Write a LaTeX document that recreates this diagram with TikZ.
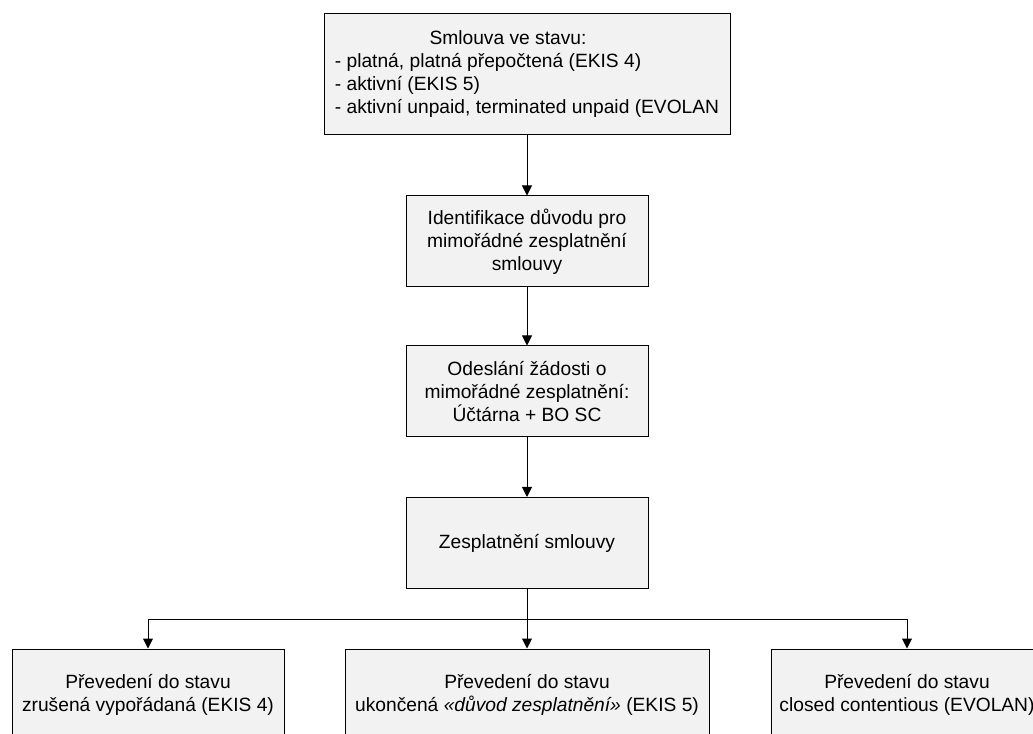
\documentclass[tikz,border=0pt]{standalone}
\usepackage{fontspec}
\setmainfont{Liberation Sans}
\usetikzlibrary{arrows.meta}
\definecolor{boxfill}{HTML}{F2F2F2}
\tikzset{
  box/.style={draw=black, fill=boxfill, line width=0.75pt, align=center, inner sep=0pt,
    minimum width=181.5pt, minimum height=68.25pt, font=\fontsize{14.4pt}{17.25pt}\selectfont},
  link/.style={line width=0.75pt, -{Triangle[width=7.5pt,length=7.5pt]}}
}
\begin{document}
\begin{tikzpicture}[x=0.75pt,y=0.75pt,yscale=-1,xscale=1]
    \useasboundingbox (0,0) rectangle (1033,734);
    \clip (0,0) rectangle (1033,734);
    % Process boxes
    \node[box, minimum width=304.5pt, minimum height=90.75pt] (state) at (527,74.5)
      {\begin{tabular}{@{}l@{}}\hspace*{71pt}Smlouva ve stavu:\\- platná, platná přepočtená (EKIS 4)\\- aktivní (EKIS 5)\\- aktivní unpaid, terminated unpaid (EVOLAN\end{tabular}};
    \node[box] (reason) at (527,241.5) {Identifikace důvodu pro\\mimořádné zesplatnění\\smlouvy};
    \node[box] (request) at (527,391.5) {Odeslání žádosti o\\mimořádné zesplatnění:\\Účtárna + BO SC};
    \node[box] (payoff) at (527,543) {Zesplatnění smlouvy};
    % Result boxes
    \node[box, minimum width=204pt] (stateA) at (148,694.5) {Převedení do stavu\\zrušená vypořádaná (EKIS 4)};
    \node[box, minimum width=273pt] (stateB) at (527,694.5) {Převedení do stavu\\ukončená \textit{«důvod zesplatnění»} (EKIS 5)};
    \node[box, minimum width=204pt] (stateC) at (907,694.5) {Převedení do stavu\\closed contentious (EVOLAN)};
    % Connectors
    \draw[link] (state) -- (reason);
    \draw[link] (reason) -- (request);
    \draw[link] (request) -- (payoff);
    \coordinate (split) at (527,619);
    \draw[link] (payoff) -- (stateB);
    \draw[link] (split) -| (stateA);
    \draw[link] (split) -| (stateC);
\end{tikzpicture}
\end{document}
